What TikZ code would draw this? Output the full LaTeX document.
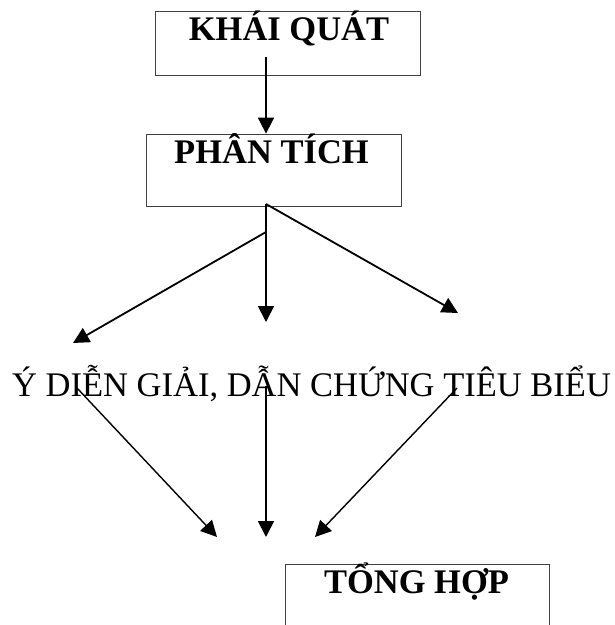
\documentclass[tikz,border=0pt]{standalone}
\usepackage{fontspec}
\setmainfont{Liberation Serif}
\usetikzlibrary{arrows.meta}
\begin{document}
\begin{tikzpicture}[x=1pt,y=-1pt,
  box/.style={draw=black!75,line width=0.8pt,rectangle,inner sep=0pt},
  title/.style={font=\fontsize{34.5}{40}\selectfont\bfseries,anchor=base,inner sep=0pt},
  plain/.style={font=\fontsize{34.5}{40}\selectfont,anchor=base west,inner sep=0pt},
  arr/.style={line width=1.8pt,-{Triangle[length=16pt,width=16pt]}},
  thinarr/.style={line width=1.4pt,-{Triangle[length=16pt,width=16pt]}}]
\useasboundingbox (0,0) rectangle (615,625);
% boxes
\node[box,minimum width=265pt,minimum height=64pt] (kq) at (287.5,43) {};
\node[title] (kqt) at (289,40) {KHÁI QUÁT};
\node[box,minimum width=255pt,minimum height=72pt] (pt) at (273.5,170) {};
\node[title] (ptt) at (271.5,163) {PHÂN TÍCH};
\node[box,minimum width=264pt,minimum height=110pt] (th) at (417,619) {};
\node[title] (tht) at (416.5,593) {TỔNG HỢP};
\node[plain] (yd) at (12,396) {Ý DIỄN GIẢI, DẪN CHỨNG TIÊU BIỂU};
% coordinates
\coordinate (a1) at (266,57);
\coordinate (s) at (266,204);
\coordinate (sl) at (266,232);
\coordinate (l1) at (73,343);
\coordinate (m1) at (266,322);
\coordinate (r1) at (458,313);
\coordinate (b1) at (77,388);
\coordinate (b2) at (266,386);
\coordinate (b3) at (457,388);
\coordinate (c1) at (217,537);
\coordinate (c2) at (266,537);
\coordinate (c3) at (315,537);
% connectors
\draw[arr] (a1) -- (a1 |- pt.north);
\draw[arr] (s) -- (m1);
\draw[arr] (s) -- (r1);
\draw[arr] (sl) -- (l1);
\draw[thinarr] (b1) -- (c1);
\draw[arr] (b2) -- (c2);
\draw[thinarr] (b3) -- (c3);
\end{tikzpicture}
\end{document}
